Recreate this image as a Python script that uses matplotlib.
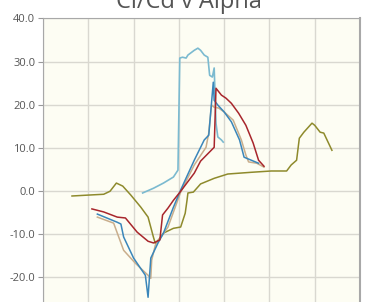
import matplotlib.pyplot as plt

# Alpha (deg) / Cl/Cd values
olive_alpha = [-11.8, -10.1, -8.3, -7.6, -6.9, -6.2, -5.3, -4.2, -3.4, -2.8, -2.6, -2.1, -1.7,
               -0.6, 0.2, 0.7, 0.9, 1.0, 1.6, 2.4, 3.9, 5.4, 8.0, 10.2, 11.9, 12.4, 13.0,
               13.3, 13.8, 14.7, 15.0, 15.6, 16.0, 16.9]
olive_clcd = [-1.2, -1.0, -0.8, -0.1, 1.8, 1.1, -1.0, -3.8, -6.1, -10.8, -12.2, -11.0, -9.8,
              -8.7, -8.4, -5.2, -2.2, -0.5, -0.3, 1.6, 2.9, 3.9, 4.3, 4.6, 4.6, 6.0, 7.1,
              12.2, 13.6, 15.7, 15.2, 13.6, 13.4, 9.4]

red_alpha = [-9.6, -8.3, -6.8, -5.9, -4.6, -3.4, -2.8, -2.1, -1.8, -1.2, -0.6, 0.2, 1.7, 2.4,
             3.9, 4.1, 4.7, 5.2, 5.8, 6.6, 7.4, 8.2, 8.8, 9.4]
red_clcd = [-4.2, -4.9, -6.1, -6.3, -9.6, -11.7, -12.1, -11.4, -5.6, -4.0, -2.2, -0.1, 4.1,
            6.9, 10.1, 23.8, 22.2, 21.5, 20.3, 18.0, 15.2, 11.1, 7.1, 5.7]

blue_alpha = [-9.0, -6.8, -6.4, -6.1, -5.0, -3.7, -3.4, -3.1, -2.3, -1.7, -0.6, 0.2, 1.7, 2.8,
              3.3, 3.8, 3.9, 4.3, 5.0, 5.8, 6.7, 7.2, 8.0, 8.8]
blue_clcd = [-5.4, -7.3, -7.7, -10.7, -15.6, -19.6, -24.7, -15.6, -12.1, -9.8, -3.8, 0.2, 7.1,
             11.8, 12.9, 25.2, 21.0, 19.9, 18.3, 16.0, 11.8, 7.8, 7.1, 6.4]

tan_alpha = [-9.0, -7.2, -6.8, -6.1, -4.8, -3.4, -3.1, -3.0, -2.6, -2.2, -1.2, 0.2, 1.7, 3.0,
             3.3, 3.6, 3.9, 4.4, 5.0, 6.0, 6.9, 7.4, 7.7, 8.6, 9.4]
tan_clcd = [-6.1, -7.5, -9.8, -13.8, -16.8, -19.6, -20.3, -16.1, -12.6, -11.4, -8.4, -0.3, 6.0,
            10.1, 13.4, 19.9, 19.4, 19.2, 18.3, 16.4, 11.8, 8.3, 6.7, 6.4, 5.5]

light_alpha = [-4.0, -2.8, -1.7, -0.6, -0.1, 0.1, 0.4, 0.8, 1.0, 1.7, 2.1, 2.4, 2.8, 3.2, 3.4,
               3.7, 3.9, 4.1, 4.3, 4.7, 4.9]
light_clcd = [-0.5, 0.6, 1.8, 3.2, 4.8, 30.8, 31.0, 30.8, 31.5, 32.6, 33.1, 32.6, 31.5, 31.0,
              26.8, 26.4, 28.5, 15.7, 12.5, 11.8, 11.3]

y_ticks = [-20, -10, 0, 10, 20, 30, 40]
x_ticks = [-15, -10, -5, 0, 5, 10, 15, 20]

fig = plt.figure(figsize=(3.75, 3.02), dpi=100)
ax = fig.add_axes([0.1147, -0.060, 0.8453, 0.999])
ax.set_facecolor('#fdfdf3')

ax.plot(olive_alpha, olive_clcd, color='#8e8a2c', lw=1.1)
ax.plot(light_alpha, light_clcd, color='#7bbad0', lw=1.2)
ax.plot(tan_alpha, tan_clcd, color='#c9ae8c', lw=1.1)
ax.plot(blue_alpha, blue_clcd, color='#3a86ba', lw=1.1)
ax.plot(red_alpha, red_clcd, color='#a8262c', lw=1.1)

ax.set_xlim(-15, 20)
ax.set_ylim(-30, 40)
ax.set_xticks(x_ticks)
ax.set_yticks(y_ticks)
ax.set_yticklabels(['%.1f' % v for v in y_ticks], fontfamily='Open Sans', fontsize=8, color='#555555')
ax.set_xticklabels([])
ax.tick_params(axis='x', length=0)
ax.tick_params(axis='y', length=3.5, color='#999999', pad=2)
ax.grid(True, color='#d9d8d0', lw=1.0)
ax.set_axisbelow(True)
for side in ['left', 'right', 'top']:
    ax.spines[side].set_color('#a8a8a8')
ax.spines['right'].set_linewidth(1.5)

fig.text(0.504, 0.9735, 'Cl/Cd v Alpha', ha='center', va='baseline', fontsize=17,
         fontfamily='Open Sans', color='#555555')

fig.savefig('out.png', dpi=100)
